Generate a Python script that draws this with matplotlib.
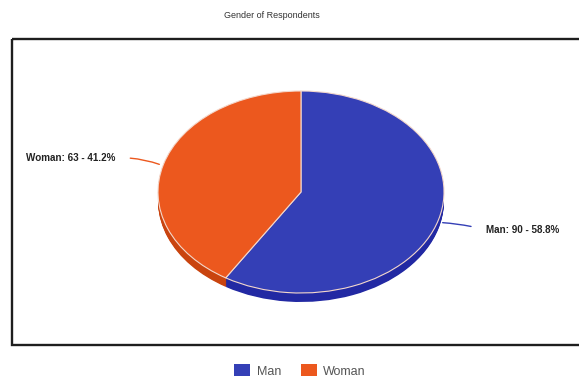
import numpy as np
import matplotlib
matplotlib.use("Agg")
import matplotlib.pyplot as plt
from matplotlib.patches import Rectangle, Patch

# Data
categories = ["Man", "Woman"]
counts = [90, 63]
top_colors = ["#343fb6", "#ec581e"]
side_colors = ["#2229a3", "#c9440f"]

W, H = 579, 379
plt.rcParams["font.family"] = ["Liberation Sans", "DejaVu Sans"]

fig = plt.figure(figsize=(W / 100, H / 100), dpi=100)

# pixel axes for frame, title, texts
ax = fig.add_axes([0, 0, 1, 1])
ax.set_xlim(0, W)
ax.set_ylim(H, 0)
ax.axis("off")

ax.add_patch(Rectangle((12, 38.5), 620, 306.5, fill=False, lw=1.7, ec="#1e1e1e"))
ax.text(272, 16, "Gender of Respondents", ha="center", va="center",
        fontsize=6.5, color="#333333")

# pie axes: ellipse 286 x 202 px, depth 9 px
cx, cy, rx, ry, depth = 301, 192, 143, 101, 9
d = depth / ry
pax = fig.add_axes([(cx - rx) / W, (H - (cy + ry + depth)) / H,
                    2 * rx / W, (2 * ry + depth) / H])
for off in np.linspace(d, 0.005, 12):
    pax.pie(counts, colors=side_colors, startangle=90, counterclock=False,
            center=(0, -off), radius=1, wedgeprops=dict(linewidth=0))
wedges, _ = pax.pie(counts, colors=top_colors, startangle=90,
                    counterclock=False, radius=1,
                    wedgeprops=dict(edgecolor="#f4d8cc", linewidth=0.8))
pax.set_aspect("auto")
pax.set_xlim(-1, 1)
pax.set_ylim(-1 - d, 1)
pax.axis("off")

# labels with leader lines
total = sum(counts)
fracs = np.array(counts) / total
mids = np.cumsum(fracs) - fracs / 2
text_pos = [(486, H - 230), (115, H - 158)]
rads = [0.05, -0.1]
relpos = [(0, 0.5), (1, 0.5)]
for i, cat in enumerate(categories):
    ang = np.deg2rad(90 - mids[i] * 360)
    xy = (np.cos(ang) * 1.03, np.sin(ang) * 1.0 - (0.03 if i == 0 else 0))
    pct = fracs[i] * 100
    pax.annotate(f"{cat}: {counts[i]} - {pct:.1f}%", xy=xy,
                 xytext=text_pos[i], textcoords="figure pixels",
                 ha="left" if i == 0 else "right", va="center",
                 fontsize=7.15, fontweight="bold", color="#222222",
                 annotation_clip=False,
                 arrowprops=dict(arrowstyle="-", color=top_colors[i], lw=1,
                                 shrinkA=9, shrinkB=0, relpos=relpos[i],
                                 connectionstyle=f"arc3,rad={rads[i]}"))

handles = [Patch(facecolor=c, edgecolor="none") for c in top_colors]
fig.legend(handles, categories, loc="center", ncol=2, frameon=False,
           bbox_to_anchor=(300 / W, 1 - 371 / H), fontsize=9,
           labelcolor="#555555", handlelength=1.3, handleheight=1.1,
           handletextpad=0.5, columnspacing=1.6)

fig.savefig("out.png", dpi=100)
